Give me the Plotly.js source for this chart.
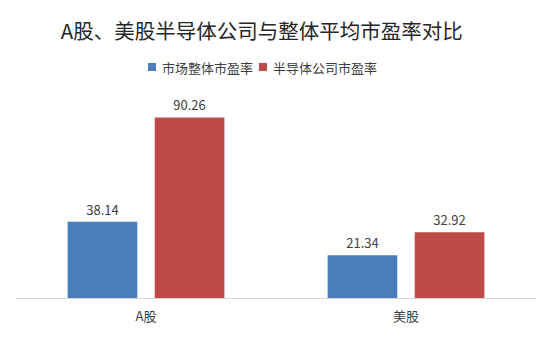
<!DOCTYPE html>
<html>
<head>
<meta charset="utf-8">
<script src="https://cdn.plot.ly/plotly-3.0.1.min.js"></script>
<style>html,body{margin:0;padding:0;background:#fff;}#chart{width:550px;height:339px;}</style>
</head>
<body>
<div id="chart"></div>
<script>
const categories = ["A股", "美股"];
const seriesNames = ["市场整体市盈率", "半导体公司市盈率"];
const marketPE = [38.14, 21.34];
const semiPE = [90.26, 32.92];
const seriesColors = ["#4A7EBB", "#BE4B48"];

const font = "'Noto Sans CJK SC', 'Noto Sans', sans-serif";
const traces = [
  {type: "bar", name: seriesNames[0], x: categories, y: marketPE, showlegend: false,
   marker: {color: seriesColors[0]}, text: marketPE.map(v => v.toFixed(2)),
   textposition: "outside", textfont: {size: 13, color: "#404040", family: font},
   cliponaxis: false, hoverinfo: "none"},
  {type: "bar", name: seriesNames[1], x: categories, y: semiPE, showlegend: false,
   marker: {color: seriesColors[1]}, text: semiPE.map(v => v.toFixed(2)),
   textposition: "outside", textfont: {size: 13, color: "#404040", family: font},
   cliponaxis: false, hoverinfo: "none"}
];

// legend drawn as keys + labels (pixel layout converted to paper coordinates)
const plotL = 16, plotW = 520, plotB = 298, plotH = 200;
const px = v => (v - plotL) / plotW;
const py = v => (plotB - v) / plotH;
const legendKeysX = [148, 259];
const legendY = 67;
const shapes = seriesNames.map((n, i) => ({
  type: "rect", xref: "paper", yref: "paper",
  x0: px(legendKeysX[i]), x1: px(legendKeysX[i] + 8), y0: py(legendY + 4), y1: py(legendY - 4),
  fillcolor: seriesColors[i], line: {width: 0}
}));
const annotations = seriesNames.map((n, i) => ({
  text: n, xref: "paper", yref: "paper", x: px(legendKeysX[i] + 12), y: py(legendY),
  xanchor: "left", yanchor: "middle", showarrow: false,
  font: {size: 13, color: "#404040", family: font}
}));

const layout = {
  width: 550, height: 339,
  margin: {l: 16, r: 14, t: 98, b: 41},
  paper_bgcolor: "#fff", plot_bgcolor: "#fff",
  font: {family: font, color: "#404040"},
  title: {text: "A股、美股半导体公司与整体平均市盈率对比", font: {size: 20.5, color: "#262626", family: font},
          x: 0.476, xanchor: "center", y: 0.906, yanchor: "middle"},
  showlegend: false,
  shapes: shapes,
  annotations: annotations,
  barmode: "group", bargap: 0.33, bargroupgap: 0.2,
  xaxis: {showline: true, linecolor: "#d9d9d9", linewidth: 1, ticks: "", showgrid: false,
          ticklabelstandoff: 6,
          tickfont: {size: 13, color: "#404040", family: font}, zeroline: false},
  yaxis: {range: [0, 100], showgrid: false, zeroline: false, showticklabels: false, showline: false, ticks: ""}
};
Plotly.newPlot("chart", traces, layout, {displayModeBar: false, staticPlot: true});
</script>
</body>
</html>
